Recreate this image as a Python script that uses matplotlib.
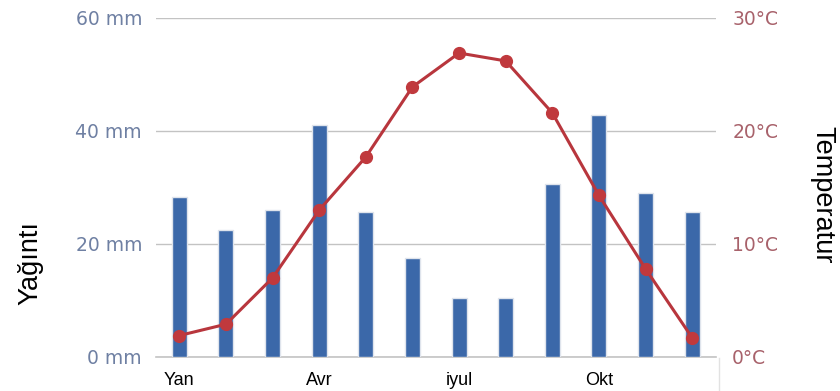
import matplotlib
matplotlib.use("Agg")
import matplotlib.pyplot as plt
from matplotlib.lines import Line2D
import numpy as np

# Monthly climate values
months = ["Yan", "Fev", "Mar", "Avr", "May", "İyun", "iyul", "Avq", "Sen", "Okt", "Noy", "Dek"]
precip_mm = [28.4, 22.4, 26.0, 41.1, 25.7, 17.6, 10.4, 10.4, 30.7, 42.8, 29.1, 25.7]
temp_c = [1.9, 2.9, 7.0, 13.0, 17.7, 23.9, 26.9, 26.2, 21.6, 14.3, 7.8, 1.7]

shown_ticks = [0, 3, 6, 9]
shown_labels = ["Yan", "Avr", "iyul", "Okt"]
mm_ticks = [0, 20, 40, 60]
mm_labels = ["0 mm", "20 mm", "40 mm", "60 mm"]
c_ticks = [0, 10, 20, 30]
c_labels = ["0°C", "10°C", "20°C", "30°C"]

W, H = 840, 391
fig = plt.figure(figsize=(W / 100, H / 100), dpi=100)
fig.patch.set_facecolor("white")

ax = fig.add_axes([156 / W, 1 - 357 / H, (715.5 - 156) / W, (357 - 18) / H])
ax2 = ax.twinx()

x = np.arange(len(months))
ax.bar(x, precip_mm, width=0.32, color="#3b68a9", edgecolor="#dfe4ec",
       linewidth=1.0, zorder=3)
ax.set_xlim(-0.5, len(months) - 0.5)
ax.set_ylim(0, 60)
ax.set_yticks(mm_ticks)
ax.set_yticklabels(mm_labels)
ax.grid(axis="y", color="#c3c3c3", linewidth=1.0, zorder=0)
ax.axhline(0, color="#c3c3c3", linewidth=1.2, zorder=2, clip_on=False)
ax.set_axisbelow(True)
ax.set_xticks(shown_ticks)
ax.set_xticklabels(shown_labels, family="Liberation Sans", fontsize=13, color="black")
ax.tick_params(axis="x", length=0, pad=11)
ax.tick_params(axis="y", length=0, pad=10, labelsize=13.5, labelcolor="#6f80a3")
for t in ax.get_yticklabels():
    t.set_family("DejaVu Sans")

ax2.plot(x, temp_c, color="#b8363d", linewidth=2.2, marker="o", markersize=8.5,
         markerfacecolor="#c0393d", markeredgecolor="#c0393d", zorder=5)
ax2.set_ylim(0, 30)
ax2.set_yticks(c_ticks)
ax2.set_yticklabels(c_labels)
ax2.tick_params(axis="y", length=0, pad=12, labelsize=13.5, labelcolor="#a8626b")

for a in (ax, ax2):
    for s in a.spines.values():
        s.set_visible(False)

# Axis titles
fig.text(30 / W, 1 - 263 / H, "Yağıntı", rotation=90, ha="center", va="center",
         family="Liberation Sans", fontsize=19.5, color="black")
fig.text(822 / W, 1 - 195 / H, "Temperatur", rotation=-90, ha="center", va="center",
         family="Liberation Sans", fontsize=19.5, color="black")

# faint border at the end of the month strip
fig.add_artist(Line2D([719 / W, 719 / W], [0, 1 - 358 / H], color="#e2e2e2",
                      linewidth=1.0, transform=fig.transFigure))

fig.savefig("out.png", dpi=100, facecolor="white")
